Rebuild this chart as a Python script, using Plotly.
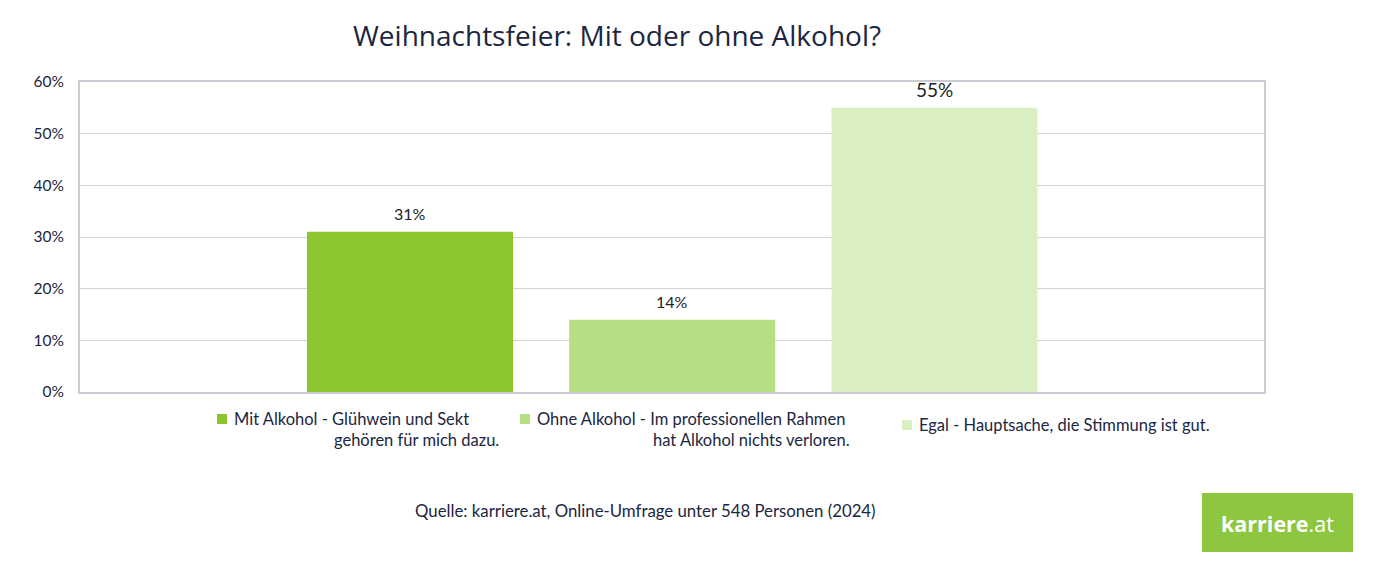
import plotly.graph_objects as go

# ---- data ----
series_names = [
    "Mit Alkohol - Glühwein und Sekt|gehören für mich dazu.",
    "Ohne Alkohol - Im professionellen Rahmen|hat Alkohol nichts verloren.",
    "Egal - Hauptsache, die Stimmung ist gut.",
]
values = [0.31, 0.14, 0.55]
value_labels = ["31%", "14%", "55%"]
colors = ["#8CC52E", "#B6DE84", "#DAEFC2"]
y_ticks = [0, 0.1, 0.2, 0.3, 0.4, 0.5, 0.6]
y_tick_labels = ["0%", "10%", "20%", "30%", "40%", "50%", "60%"]

title = "Weihnachtsfeier: Mit oder ohne Alkohol?"
source = "Quelle: karriere.at, Online-Umfrage unter 548 Personen (2024)"

TEXT = "#1B2640"
BODY_FONT = "Lato"

fig = go.Figure()
for i, (name, v, c) in enumerate(zip(series_names, values, colors)):
    fig.add_trace(go.Bar(
        x=[i], y=[v], width=0.7855, marker=dict(color=c, line=dict(width=0)),
        name=name.replace("|", " "), showlegend=False, hoverinfo="skip",
    ))

annotations = []
# data labels
label_sizes = [16, 16, 19]
for i, (v, t) in enumerate(zip(values, value_labels)):
    annotations.append(dict(x=i, y=v, xref="x", yref="y", text=t, showarrow=False,
                            yshift=18, font=dict(family=BODY_FONT, size=label_sizes[i], color="#222222")))

W, H = 1382, 567
L, R, T, B = 80, 118, 82, 175
pw, ph = W - L - R, H - T - B

def px(xp):
    return (xp - L) / pw

def py(yp):
    return (H - B - yp) / ph

legend_layout = [
    # marker_x0, text_x, line1_y, line2_right_x, line2_y
    (217, 232, 419, 501, 440),
    (520, 535, 419, 852, 440),
    (902, 917, 425, None, None),
]
shapes = []
for (mx, tx, y1, rx, y2), name, c in zip(legend_layout, series_names, colors):
    parts = name.split("|")
    shapes.append(dict(type="rect", xref="paper", yref="paper",
                       x0=px(mx), x1=px(mx + 10), y0=py(y1 + 5), y1=py(y1 - 5),
                       fillcolor=c, line=dict(width=0)))
    annotations.append(dict(x=px(tx), y=py(y1), xref="paper", yref="paper", text=parts[0],
                            showarrow=False, xanchor="left", yanchor="middle",
                            font=dict(family=BODY_FONT, size=16.5, color=TEXT)))
    if len(parts) > 1:
        annotations.append(dict(x=px(rx), y=py(y2), xref="paper", yref="paper", text=parts[1],
                                showarrow=False, xanchor="right", yanchor="middle",
                                font=dict(family=BODY_FONT, size=16.5, color=TEXT)))

# title
annotations.append(dict(x=px(617), y=py(35), xref="paper", yref="paper", text=title,
                        showarrow=False, xanchor="center", yanchor="middle",
                        font=dict(family="Open Sans", size=28, color=TEXT)))
# source
annotations.append(dict(x=px(645), y=py(510), xref="paper", yref="paper", text=source,
                        showarrow=False, xanchor="center", yanchor="middle",
                        font=dict(family=BODY_FONT, size=16.8, color=TEXT)))
# logo
shapes.append(dict(type="rect", xref="paper", yref="paper",
                   x0=px(1202), x1=px(1353), y0=py(552), y1=py(493),
                   fillcolor="#8DC63F", line=dict(width=0)))
annotations.append(dict(x=px(1277), y=py(523), xref="paper", yref="paper",
                        text="<b>karriere</b>.at", showarrow=False,
                        xanchor="center", yanchor="middle",
                        font=dict(family="Open Sans", size=21.5, color="white")))

fig.update_layout(
    width=W, height=H,
    margin=dict(l=L, r=R, t=T, b=B),
    paper_bgcolor="white", plot_bgcolor="white",
    barmode="overlay",
    xaxis=dict(range=[-1.2583, 3.2564], showticklabels=False, showgrid=False, zeroline=False,
               showline=True, linecolor="#C8CDD3", linewidth=2, mirror=True, ticks=""),
    yaxis=dict(range=[0, 0.6], tickvals=y_ticks, ticktext=y_tick_labels,
               showgrid=True, gridcolor="#D3D3D3", gridwidth=1, zeroline=False,
               showline=True, linecolor="#C8CDD3", linewidth=2, mirror=True,
               ticks="outside", ticklen=11, tickcolor="rgba(0,0,0,0)",
               tickfont=dict(family=BODY_FONT, size=15.5, color=TEXT)),
    annotations=annotations,
    shapes=shapes,
    showlegend=False,
)

fig.write_html("out.html", config={"displayModeBar": False, "staticPlot": True},
               post_script="document.body.style.margin='0';document.body.style.overflow='hidden';")
